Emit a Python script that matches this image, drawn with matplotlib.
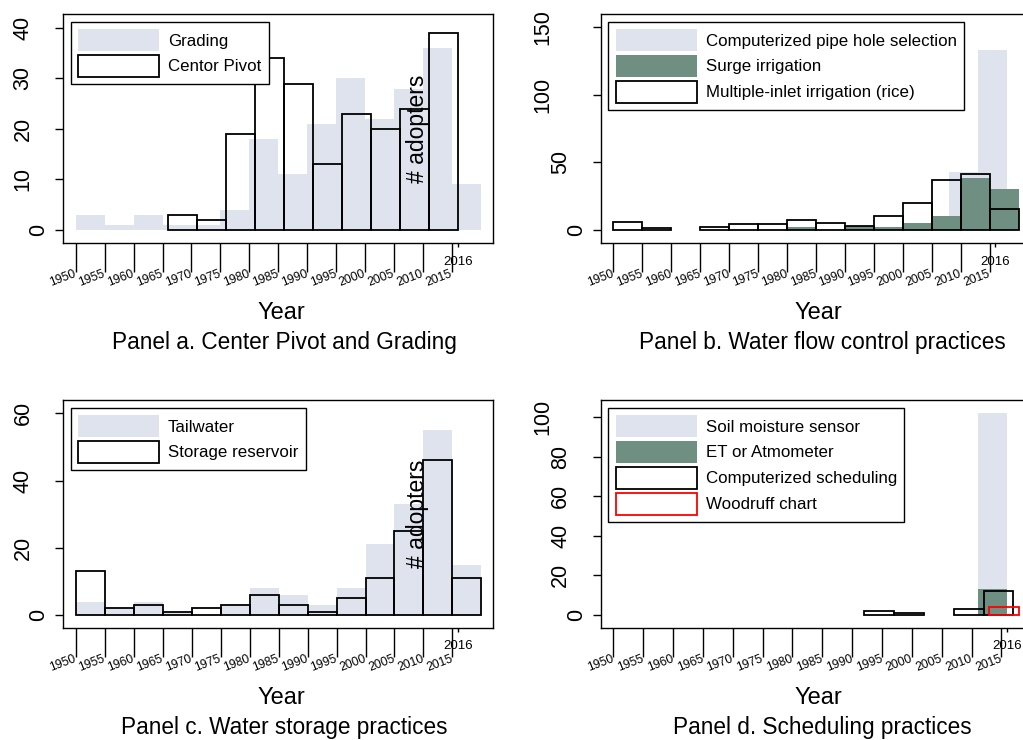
import numpy as np
import matplotlib
matplotlib.use("Agg")
import matplotlib.pyplot as plt
from matplotlib import transforms

plt.rcParams['font.family'] = ['Liberation Sans', 'DejaVu Sans']

LIGHT = '#dfe3ee'
GREEN = '#6e8f81'

# x axis
year_ticks = [1950, 1955, 1960, 1965, 1970, 1975, 1980, 1985, 1990, 1995, 2000, 2005, 2010, 2015]
survey_year = [2016]
bin_width = 5

# panel a: center pivot and grading
grading_start = 1950
grading = [3, 1, 3, 1, 1, 4, 18, 11, 21, 30, 22, 28, 36, 9]
pivot_start = 1966
pivot = [3, 2, 19, 34, 29, 13, 23, 20, 24, 39]

# panel b: water flow control
pipe_start = 2008
pipe_hole = [43, 133]
surge_start = 1950
surge = [0, 0, 0, 0, 0, 0, 2, 0, 3, 2, 5, 10, 38, 30]
inlet_start = 1950
inlet = [6, 1, 0, 2, 4, 4, 7, 5, 3, 10, 20, 37, 41, 15]

# panel c: water storage
tail_start = 1950
tailwater = [4, 2, 4, 1, 0, 3, 8, 6, 3, 8, 21, 33, 55, 15]
storage_start = 1950
storage = [13, 2, 3, 1, 2, 3, 6, 3, 1, 5, 11, 25, 46, 11]

# panel d: scheduling
soil_start = 2011
soil = [102]
et_start = 2011
et_atmo = [13]
comp_start = 1992
comp_sched = [2, 1, 0, 3, 12]
wood_start = 2013
woodruff = [4]


def hist_bars(ax, start, counts, **kw):
    counts = np.asarray(counts, dtype=float)
    left = start + bin_width * np.arange(len(counts))
    keep = counts > 0
    return ax.bar(left[keep], counts[keep], width=bin_width, align='edge', **kw)


def light(ax, start, counts):
    return hist_bars(ax, start, counts, color=LIGHT, linewidth=0)


def green(ax, start, counts):
    return hist_bars(ax, start, counts, color=GREEN, linewidth=0)


def outline(ax, start, counts, col='black'):
    return hist_bars(ax, start, counts, fill=False, edgecolor=col, linewidth=1.3)


def style_axes(ax, fig, xlim, ylim, yticks, title, adopters=False):
    ax.set_xlim(*xlim)
    ax.set_ylim(*ylim)
    for sp in ax.spines.values():
        sp.set_linewidth(1.0)
        sp.set_color('black')

    ax.set_xticks(year_ticks)
    ax.set_xticklabels([str(y) for y in year_ticks])
    ax.tick_params(axis='x', which='major', length=21, width=1, pad=1,
                   labelsize=8.7, labelrotation=21)
    for lab in ax.get_xticklabels():
        lab.set_ha('right')
        lab.set_va('center')
        lab.set_rotation_mode('anchor')
    ax.set_xticks(survey_year, minor=True)
    ax.set_xticklabels([str(y) for y in survey_year], minor=True)
    ax.tick_params(axis='x', which='minor', length=3, width=1, pad=6,
                   labelsize=9.5, labelrotation=0)

    ax.set_yticks(yticks)
    ax.set_yticklabels([])
    ax.tick_params(axis='y', length=6, width=1)
    # stata-style vertical labels, shifted by number of digits
    off = {1: 24, 2: 40, 3: 58}
    base = transforms.blended_transform_factory(ax.transAxes, ax.transData)
    for v in yticks:
        s = str(v)
        tr = base + transforms.ScaledTranslation(-off[len(s)] / 100, 0, fig.dpi_scale_trans)
        ax.text(0, v, s, transform=tr, rotation=90, ha='center', va='center', fontsize=15.5)

    ax.text(0.507, -0.333, 'Year', transform=ax.transAxes, ha='center',
            va='baseline', fontsize=17)
    ax.text(0.515, -0.463, title, transform=ax.transAxes, ha='center',
            va='baseline', fontsize=16.3)
    if adopters:
        ax.text(0.825, 0.5, '# adopters', transform=ax.transAxes, rotation=90,
                ha='center', va='center', fontsize=16.5)


def add_legend(ax, handles, labels):
    keys = [h[0] for h in handles]
    leg = ax.legend(keys, labels, loc='upper left', fontsize=12.2, frameon=True,
                    fancybox=False, edgecolor='black', framealpha=1,
                    handlelength=4.8, handleheight=1.63, handletextpad=0.5,
                    labelspacing=0.22, borderpad=0.44, borderaxespad=0.45)
    leg.get_frame().set_linewidth(1.0)


fig = plt.figure(figsize=(10.23, 7.40), dpi=100)
ax_a = fig.add_axes([0.0616, 0.6716, 0.4203, 0.3095])
ax_b = fig.add_axes([0.5872, 0.6716, 0.4203, 0.3095])
ax_c = fig.add_axes([0.0616, 0.1514, 0.4203, 0.3081])
ax_d = fig.add_axes([0.5872, 0.1514, 0.4203, 0.3081])

# panel a
h1 = light(ax_a, grading_start, grading)
h2 = outline(ax_a, pivot_start, pivot)
add_legend(ax_a, [h1, h2], ['Grading', 'Centor Pivot'])
style_axes(ax_a, fig, (1947.8, 2022.1), (-2.65, 42.8), [0, 10, 20, 30, 40],
           'Panel a. Center Pivot and Grading', adopters=True)

# panel b
h1 = light(ax_b, pipe_start, pipe_hole)
h2 = green(ax_b, surge_start, surge)
h3 = outline(ax_b, inlet_start, inlet)
add_legend(ax_b, [h1, h2, h3], ['Computerized pipe hole selection', 'Surge irrigation',
                                'Multiple-inlet irrigation (rice)'])
style_axes(ax_b, fig, (1947.8, 2022.1), (-9.9, 160), [0, 50, 100, 150],
           'Panel b. Water flow control practices')

# panel c
h1 = light(ax_c, tail_start, tailwater)
h2 = outline(ax_c, storage_start, storage)
add_legend(ax_c, [h1, h2], ['Tailwater', 'Storage reservoir'])
style_axes(ax_c, fig, (1947.8, 2022.0), (-3.86, 64), [0, 20, 40, 60],
           'Panel c. Water storage practices', adopters=True)

# panel d
h1 = light(ax_d, soil_start, soil)
h2 = green(ax_d, et_start, et_atmo)
h3 = outline(ax_d, comp_start, comp_sched)
h4 = outline(ax_d, wood_start, woodruff, col='red')
add_legend(ax_d, [h1, h2, h3, h4], ['Soil moisture sensor', 'ET or Atmometer',
                                    'Computerized scheduling', 'Woodruff chart'])
style_axes(ax_d, fig, (1947.88, 2019.9), (-6.6, 108.8), [0, 20, 40, 60, 80, 100],
           'Panel d. Scheduling practices')

fig.savefig('out.png', dpi=100)
